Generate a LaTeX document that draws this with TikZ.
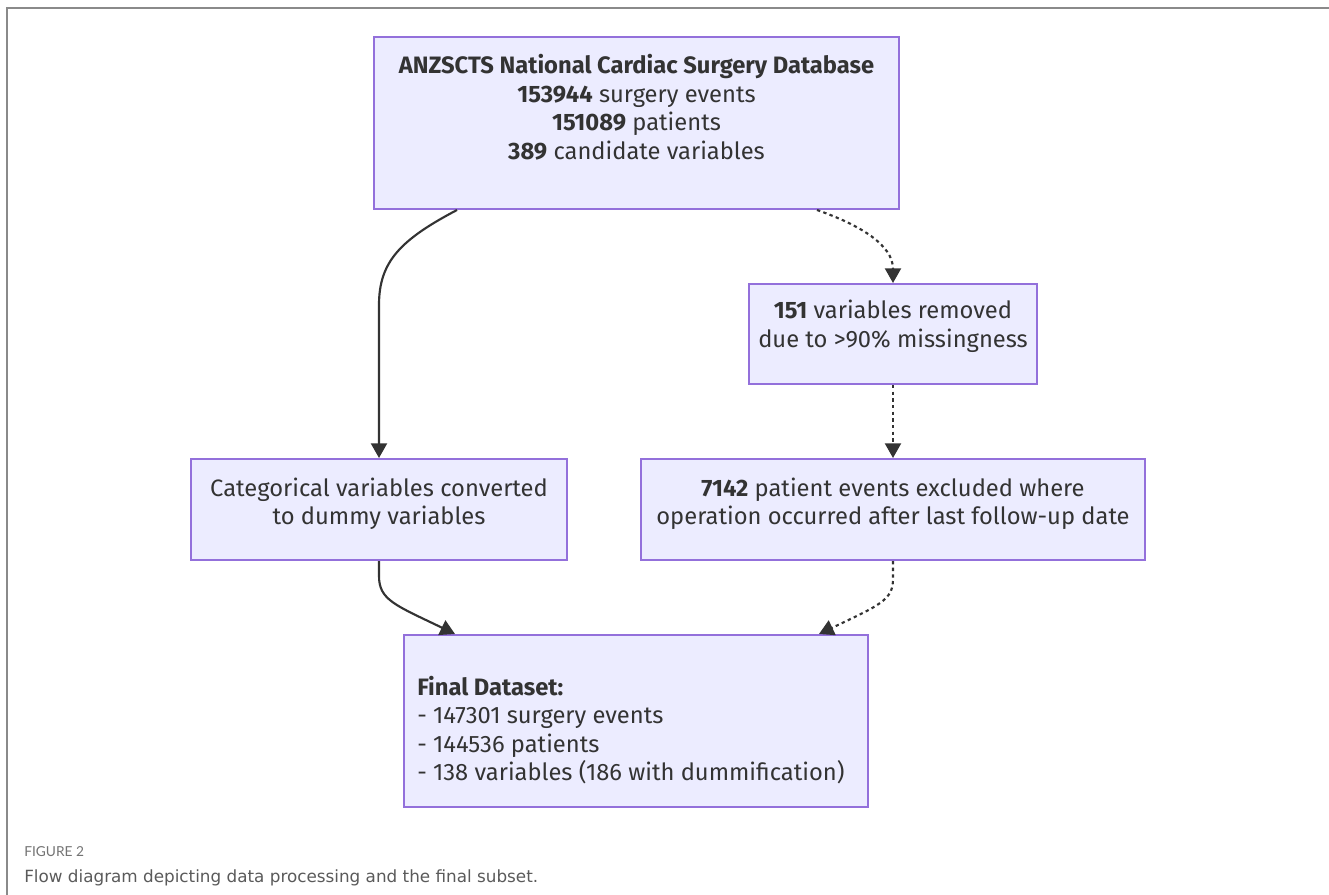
\documentclass[tikz,border=0pt]{standalone}
\usepackage{fontspec}
\setmainfont{Fira Sans}
\newfontfamily\capfont{DejaVu Sans}
\newfontfamily\labfont{Lato}
\usetikzlibrary{arrows.meta,calc}
\definecolor{boxfill}{HTML}{ECECFF}
\definecolor{boxline}{HTML}{9370DB}
\definecolor{ink}{HTML}{333333}
\definecolor{framegray}{HTML}{8A8A8A}
\definecolor{capgray}{HTML}{5A5A5A}
\begin{document}
\begin{tikzpicture}[x=0.75pt,y=-0.75pt,
  flowbox/.style={draw=boxline,fill=boxfill,line width=1.5pt,inner sep=0pt,rectangle},
  boxtext/.style={text=ink,font=\fontsize{17.8}{21.4}\selectfont,align=center,inner sep=0pt},
  solidarrow/.style={draw=ink,line width=1.6pt,-{Triangle[length=11pt,width=12pt]}},
  dotarrow/.style={solidarrow,dash pattern=on 2.5pt off 2.5pt}]
\useasboundingbox (0,0) rectangle (1329,895);
\draw[framegray,line width=1.2pt] (7,895) -- (7,8) -- (1329,8);

% boxes
\node[flowbox,minimum width=393.75pt,minimum height=129pt] (top) at (636.5,123) {};
\node[flowbox,minimum width=216pt,minimum height=75pt] (rem) at (893,334) {};
\node[flowbox,minimum width=282pt,minimum height=75.75pt] (cat) at (379,509.5) {};
\node[flowbox,minimum width=378pt,minimum height=75.75pt] (exc) at (893,509.5) {};
\node[flowbox,minimum width=348pt,minimum height=129pt] (fin) at (636,721) {};

% texts
\node[boxtext] (toptext) at (636.5,107) {\textbf{ANZSCTS National Cardiac Surgery Database}\\\textbf{153944} surgery events\\\textbf{151089} patients\\\textbf{389} candidate variables};
\node[boxtext] (remtext) at (893,326.5) {\textbf{151} variables removed\\due to >90\% missingness};
\node[boxtext] (cattext) at (379,504) {Categorical variables converted\\to dummy variables};
\node[boxtext] (exctext) at (893,504) {\textbf{7142} patient events excluded where\\operation occurred after last follow-up date};
\node[boxtext,align=left,anchor=west] (fintext) at (417,730) {\textbf{Final Dataset:}\\- 147301 surgery events\\- 144536 patients\\- 138 variables (186 with dummification)};

% connectors
\coordinate (a1) at ($(top.south)+(-179.5,0)$);
\coordinate (a1m) at (379,305);
\draw[solidarrow] (a1) .. controls (400,240) and (379,262) .. (a1m) -- (cat.north);

\coordinate (b1) at ($(top.south)+(180.5,0)$);
\draw[dotarrow] (b1) .. controls (860,225) and (893,245) .. (rem.north);

\draw[dotarrow] (rem.south) -- (exc.north);

\coordinate (c1) at ($(cat.south)+(0,15)$);
\coordinate (c2) at ($(fin.north)+(-181,0)$);
\draw[solidarrow] (cat.south) -- (c1) .. controls (379,600) and (395,605) .. (c2);

\coordinate (d1) at ($(exc.south)+(0,18)$);
\coordinate (d2) at ($(fin.north)+(183,0)$);
\draw[dotarrow] (exc.south) -- (d1) .. controls (893,600) and (880,605) .. (d2);

% caption
\node[anchor=west,inner sep=0pt,text=capgray!85,font=\labfont\fontsize{10.3}{12}\selectfont] (figlabel) at (24,852) {FIGURE 2};
\node[anchor=west,inner sep=0pt,text=capgray,font=\capfont\fontsize{12.6}{14}\selectfont] (figcap) at (24,878) {Flow diagram depicting data processing and the final subset.};
\end{tikzpicture}
\end{document}
